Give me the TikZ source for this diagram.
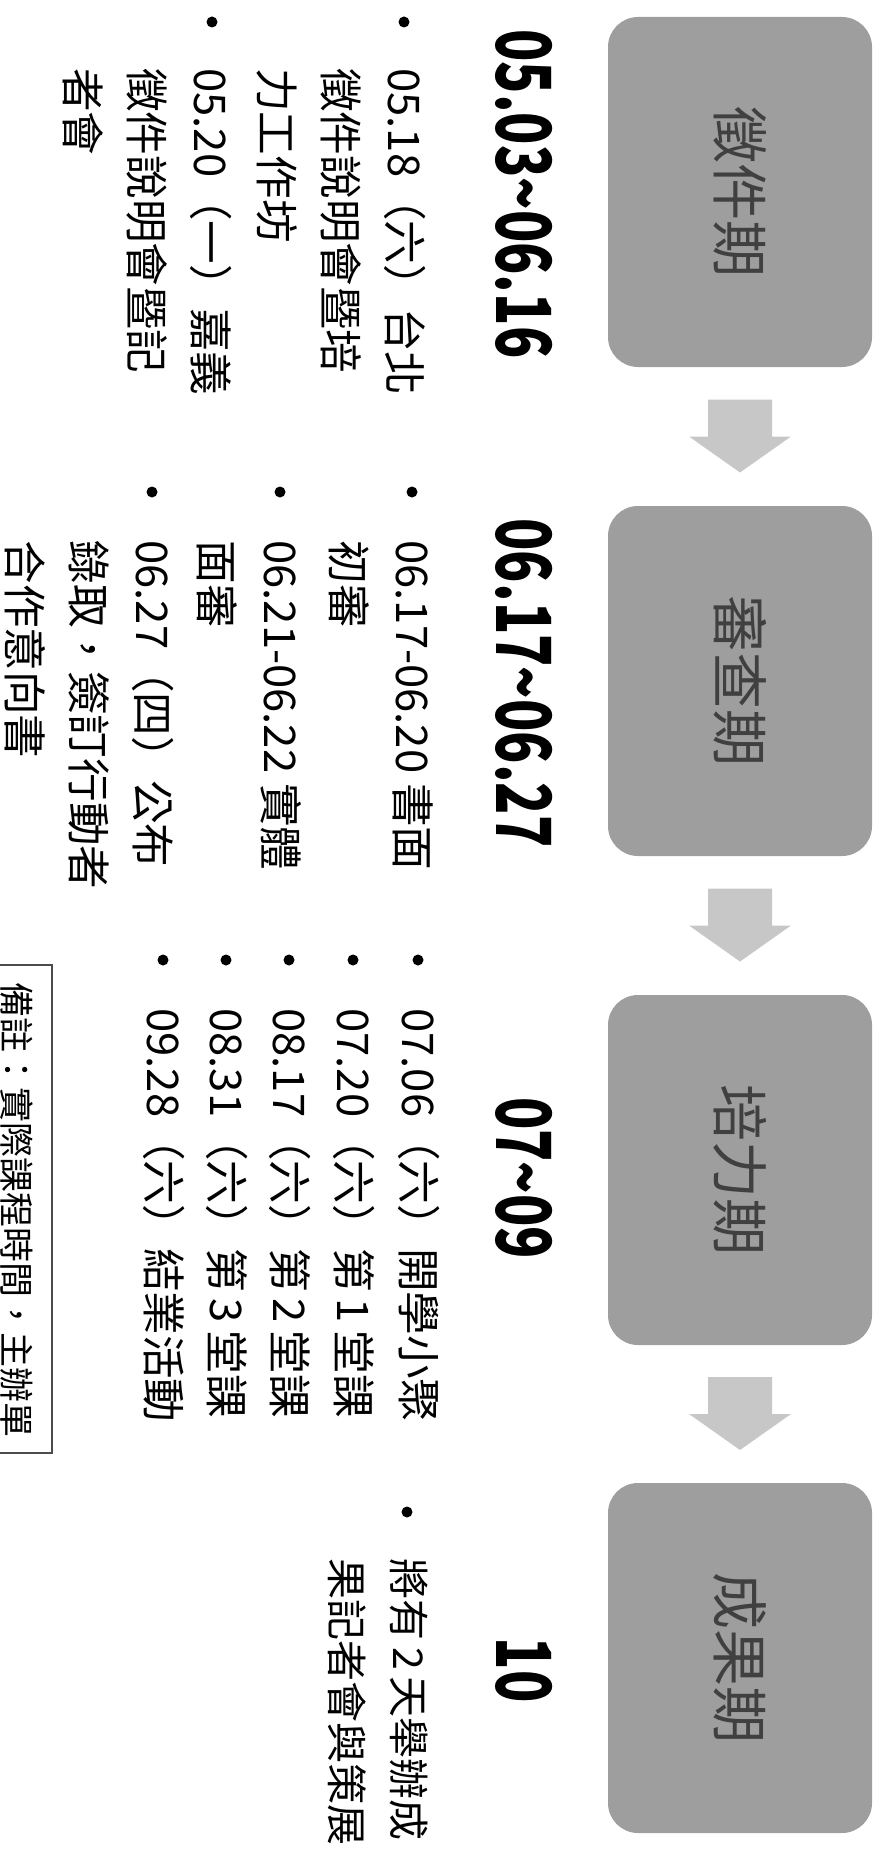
\documentclass[tikz,border=0pt]{standalone}
\usepackage{fontspec}
\setmainfont{Noto Sans CJK TC}
\usetikzlibrary{calc}

\tikzset{
  phase/.style={rectangle, rounded corners=15pt, fill=black!38, text=black!75,
    minimum width=175pt, minimum height=132pt, inner sep=0pt,
    font=\fontsize{28.5}{30}\selectfont},
  period/.style={inner sep=0pt, font=\fontsize{38}{40}\selectfont\bfseries},
  item/.style={anchor=north west, align=left, inner sep=0pt,
    font=\fontsize{21.8}{32}\selectfont},
  dot/.style={circle, fill=black, inner sep=0pt, minimum size=5.5pt},
  flow/.style={fill=black!22},
  memo/.style={draw=black!70, line width=1pt},
  memotext/.style={anchor=west, inner sep=0pt, font=\fontsize{17.5}{20}\selectfont}
}
\newcommand\narrow[1]{\scalebox{0.7}[1]{#1}}

\begin{document}
\begin{tikzpicture}[x=0.5pt, y=0.5pt, rotate=-90, transform shape]
\useasboundingbox (0,0) rectangle (1851,875);
\node[phase] (p1) at (192,740) {徵件期};
\node[phase] (p2) at (681,740) {審查期};
\node[phase] (p3) at (1170,740) {培力期};
\node[phase] (p4) at (1658,740) {成果期};
\foreach \a/\b in {p1/p2,p2/p3,p3/p4}
  \fill[flow] ($(\a.east)!.5!(\b.west)+(-37,32)$) -- ++(37,0) -- ++(0,19)
    -- ++(36,-51) -- ++(-36,-51) -- ++(0,19) -- ++(-37,0) -- cycle;

\node[period] (d1) at (194,524) {\narrow{05.03\textasciitilde 06.16}};
\node[period] (d2) at (683,524) {\narrow{06.17\textasciitilde 06.27}};
\node[period] (d3) at (1178,524) {\narrow{07\textasciitilde 09}};
\node[period] (d4) at (1670,524) {\narrow{10}};

\node[dot] (b11) at (22,404) {};
\node[item] (t11) at (68,426) {05.18（六）台北\\徵件說明會暨培\\力工作坊};
\node[dot] (b12) at (22,212) {};
\node[item] (t12) at (68,232) {05.20（一）嘉義\\徵件說明會暨記\\者會};

\node[dot] (b21) at (492,412) {};
\node[item] (t21) at (540,434) {06.17-06.20 書面\\初審};
\node[dot] (b22) at (492,280) {};
\node[item] (t22) at (540,302) {06.21-06.22 實體\\面審};
\node[dot] (b23) at (492,152) {};
\node[item] (t23) at (540,174) {06.27（四）公布\\錄取，簽訂行動者\\合作意向書};

\node[dot] (b31) at (960,418) {};
\node[item] (t31) at (1008,440) {07.06（六）開學小聚};
\node[dot] (b32) at (960,353) {};
\node[item] (t32) at (1008,375) {07.20（六）第\,1\,堂課};
\node[dot] (b33) at (960,289) {};
\node[item] (t33) at (1008,311) {08.17（六）第\,2\,堂課};
\node[dot] (b34) at (960,226) {};
\node[item] (t34) at (1008,248) {08.31（六）第\,3\,堂課};
\node[dot] (b35) at (960,163) {};
\node[item] (t35) at (1008,185) {09.28（六）結業活動};

\node[dot] (b41) at (1512,407) {};
\node[item, font=\fontsize{20.5}{31}\selectfont] (t41) at (1558,428)
  {將有\,2\,天舉辦成\\果記者會與策展};

\draw[memo] (965,-30) rectangle (1453,52);
\node[memotext] (m) at (982,17) {備註：實際課程時間，主辦單};
\end{tikzpicture}
\end{document}
